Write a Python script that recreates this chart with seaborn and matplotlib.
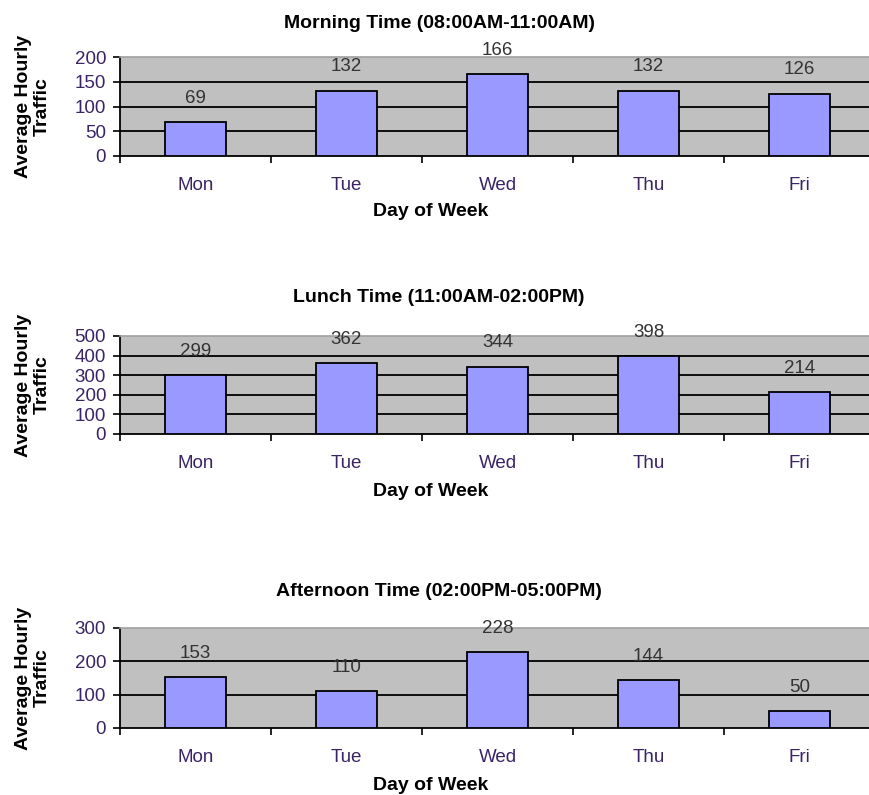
import matplotlib
matplotlib.use("Agg")
import matplotlib.pyplot as plt
import seaborn as sns
import pandas as pd

days = ["Mon", "Tue", "Wed", "Thu", "Fri"]
morning = [69, 132, 166, 132, 126]
lunch = [299, 362, 344, 398, 214]
afternoon = [153, 110, 228, 144, 50]

titles = ["Morning Time (08:00AM-11:00AM)",
          "Lunch Time (11:00AM-02:00PM)",
          "Afternoon Time (02:00PM-05:00PM)"]
y_limits = [200, 500, 300]
y_steps = [50, 100, 100]

sns.set_style("white")
plt.rcParams["font.family"] = ["Liberation Sans", "DejaVu Sans"]

W, H = 869, 795
fig = plt.figure(figsize=(W / 100, H / 100), dpi=100)

# (top, bottom) of each plot area in pixels
plot_px = [(57, 156), (336, 434), (628, 728)]
title_y = [24, 298, 592]
xlab_y = [212, 492, 786]

left_px, right_px = 120, 875
tick_color = "#3a2466"
bar_color = "#9999ff"

for values, title, ymax, ystep, (top, bot), ty, xy in zip(
        [morning, lunch, afternoon], titles, y_limits, y_steps,
        plot_px, title_y, xlab_y):
    ax = fig.add_axes([left_px / W, 1 - bot / H,
                       (right_px - left_px) / W, (bot - top) / H])
    df = pd.DataFrame({"Day": days, "Traffic": values})
    sns.barplot(data=df, x="Day", y="Traffic", color=bar_color,
                saturation=1, width=0.4, edgecolor="black",
                linewidth=1.3, ax=ax, zorder=3)
    ax.set_facecolor("#c0c0c0")
    ax.set_xlim(-0.5, len(days) - 0.5)
    ax.set_ylim(0, ymax)
    yt = list(range(0, ymax + 1, ystep))
    ax.set_yticks(yt)
    ax.set_yticklabels([str(v) for v in yt])
    for v in yt[1:-1]:
        ax.axhline(v, color="black", lw=1.3, zorder=1)

    ax.tick_params(axis="y", direction="out", length=5, width=1.2,
                   color="black", labelsize=13.5, labelcolor=tick_color,
                   pad=5, left=True)
    ax.tick_params(axis="x", which="major", length=0, labelsize=13.5,
                   labelcolor=tick_color, pad=15)
    ax.set_xticks([i - 0.5 for i in range(len(days) + 1)], minor=True)
    ax.tick_params(axis="x", which="minor", direction="out", length=5,
                   width=1.2, color="black", bottom=True)

    for side in ["left", "bottom"]:
        ax.spines[side].set_color("black")
        ax.spines[side].set_linewidth(1.3)
    ax.spines["top"].set_color("#a0a0a0")
    ax.spines["top"].set_linewidth(1.2)
    ax.spines["right"].set_visible(False)

    ax.bar_label(ax.containers[0], labels=[str(v) for v in values],
                 padding=11, fontsize=13.5, color="#333333")
    ax.set_xlabel("")
    ax.set_ylabel("")

    fig.text(439 / W, 1 - ty / H, title, ha="center", va="center",
             fontsize=14, fontweight="bold", color="black")
    fig.text(431 / W, 1 - xy / H, "Day of Week", ha="center", va="center",
             fontsize=14, fontweight="bold", color="black")
    fig.text(33 / W, 1 - ((top + bot) / 2) / H, "Average Hourly\nTraffic",
             ha="center", va="center", rotation=90, multialignment="center",
             fontsize=14, fontweight="bold", color="black", linespacing=1.15)

fig.savefig("out.png", dpi=100, facecolor="white")
